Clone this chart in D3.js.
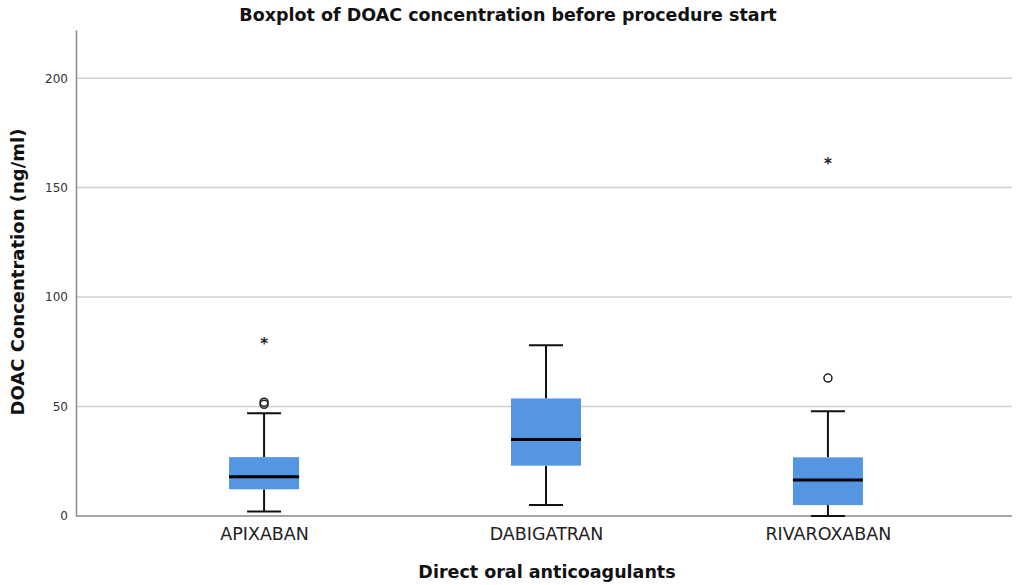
<!DOCTYPE html>
<html>
<head>
<meta charset="utf-8">
<script src="https://cdn.jsdelivr.net/npm/d3@7"></script>
<style>
  body { margin: 0; background: #fff; }
  text { font-family: "DejaVu Sans", sans-serif; }
</style>
</head>
<body>
<svg id="chart"></svg>
<script>
(() => {
  const W = 1017, H = 585;

  // data
  const drugs = ["APIXABAN", "DABIGATRAN", "RIVAROXABAN"];
  const whiskLo = [2, 5, 0];
  const q1 = [12.2, 23, 5];
  const median = [17.9, 35, 16.4];
  const q3 = [26.9, 53.7, 26.8];
  const whiskHi = [46.9, 78, 47.9];
  const outliers = [[51, 52], [], [63]];      // circles
  const extremes = [[79.6], [], [161.6]];      // stars
  const yTicks = [0, 50, 100, 150, 200];

  const m = { l: 76, r: 5, t: 30, b: 69 };
  const svg = d3.select("#chart").attr("width", W).attr("height", H);

  const x = d3.scalePoint().domain(drugs).range([m.l + 2, W - m.r + 2]).padding(0.66);
  const y = d3.scaleLinear().domain([0, 222]).range([H - m.b, m.t]);

  // grid
  svg.append("g").selectAll("line").data(yTicks.filter(d => d > 0)).join("line")
    .attr("x1", m.l).attr("x2", W - m.r)
    .attr("y1", d => y(d)).attr("y2", d => y(d))
    .attr("stroke", "#d0d0d0").attr("stroke-width", 1.5);

  // y axis
  const ya = svg.append("g").attr("transform", `translate(${m.l},0)`)
    .call(d3.axisLeft(y).tickValues(yTicks).tickSize(0).tickPadding(8));
  ya.select(".domain").attr("stroke", "#8a8a8a").attr("stroke-width", 1.5);
  ya.selectAll("text").attr("font-size", 12).attr("fill", "#333").attr("font-family", "DejaVu Sans, sans-serif");

  // x axis
  const xa = svg.append("g").attr("transform", `translate(0,${H - m.b})`)
    .call(d3.axisBottom(x).tickSize(0).tickPadding(12));
  xa.select(".domain").attr("stroke", "#8a8a8a").attr("stroke-width", 1.5).attr("d", `M${m.l},0H${W - m.r}`);
  xa.selectAll("text").attr("font-size", 17.5).attr("fill", "#222").attr("font-family", "DejaVu Sans, sans-serif");

  // boxes
  const boxW = 70, capW = 34;
  const rows = drugs.map((d, i) => ({ d, lo: whiskLo[i], q1: q1[i], med: median[i], q3: q3[i], hi: whiskHi[i], out: outliers[i], ext: extremes[i] }));
  const bx = svg.append("g").selectAll("g").data(rows).join("g")
    .attr("transform", r => `translate(${x(r.d)},0)`);

  bx.append("line").attr("y1", r => y(r.lo)).attr("y2", r => y(r.q1))
    .attr("stroke", "#111").attr("stroke-width", 2);
  bx.append("line").attr("y1", r => y(r.q3)).attr("y2", r => y(r.hi))
    .attr("stroke", "#111").attr("stroke-width", 2);
  bx.append("line").attr("x1", -capW / 2).attr("x2", capW / 2)
    .attr("y1", r => y(r.lo)).attr("y2", r => y(r.lo))
    .attr("stroke", "#111").attr("stroke-width", 2);
  bx.append("line").attr("x1", -capW / 2).attr("x2", capW / 2)
    .attr("y1", r => y(r.hi)).attr("y2", r => y(r.hi))
    .attr("stroke", "#111").attr("stroke-width", 2);
  bx.append("rect").attr("x", -boxW / 2).attr("width", boxW)
    .attr("y", r => y(r.q3)).attr("height", r => y(r.q1) - y(r.q3))
    .attr("fill", "#5596e3");
  bx.append("line").attr("x1", -boxW / 2).attr("x2", boxW / 2)
    .attr("y1", r => y(r.med)).attr("y2", r => y(r.med))
    .attr("stroke", "#000").attr("stroke-width", 3);

  bx.selectAll("circle").data(r => r.out).join("circle")
    .attr("cy", v => y(v)).attr("r", 4)
    .attr("fill", "none").attr("stroke", "#222").attr("stroke-width", 1.5);
  bx.selectAll("text.star").data(r => r.ext).join("text").attr("class", "star")
    .attr("y", v => y(v) + 7).attr("text-anchor", "middle")
    .attr("font-size", 15).attr("font-weight", "bold").attr("fill", "#222").text("*");

  // titles
  svg.append("text").attr("x", 508).attr("y", 21).attr("text-anchor", "middle")
    .attr("font-size", 17.5).attr("font-weight", "bold").attr("fill", "#111")
    .text("Boxplot of DOAC concentration before procedure start");
  svg.append("text").attr("x", 547).attr("y", 578).attr("text-anchor", "middle")
    .attr("font-size", 17.5).attr("font-weight", "bold").attr("fill", "#111")
    .text("Direct oral anticoagulants");
  svg.append("text").attr("transform", "translate(24,272) rotate(-90)")
    .attr("text-anchor", "middle")
    .attr("font-size", 18).attr("font-weight", "bold").attr("fill", "#111")
    .text("DOAC Concentration (ng/ml)");
})();
</script>
</body>
</html>
